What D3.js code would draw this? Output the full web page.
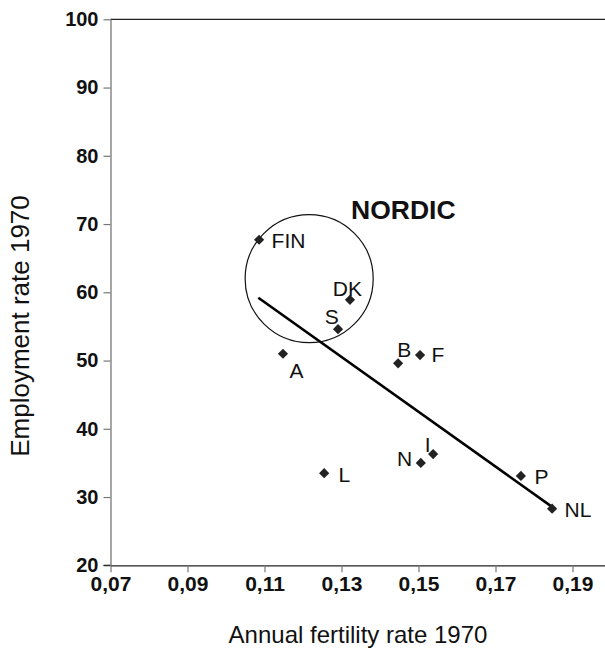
<!DOCTYPE html>
<html>
<head>
<meta charset="utf-8">
<script src="https://cdn.jsdelivr.net/npm/d3@7"></script>
<style>
  html, body { margin: 0; padding: 0; background: #fff; }
  svg { display: block; font-family: "Liberation Sans", Arial, Helvetica, sans-serif; }
</style>
</head>
<body>
<svg id="chart" width="605" height="650"></svg>
<script>
// ---- data ----
const countries  = ["FIN", "DK", "S", "A", "B", "F", "N", "I", "L", "P", "NL"];
const fertility  = [0.1086, 0.1322, 0.1291, 0.1148, 0.1447, 0.1504, 0.1506, 0.1538, 0.1255, 0.1766, 0.1847];
const employment = [67.7, 58.9, 54.6, 51.0, 49.6, 50.8, 35.0, 36.3, 33.5, 33.1, 28.3];
const xTicks = [0.07, 0.09, 0.11, 0.13, 0.15, 0.17, 0.19];
const yTicks = [20, 30, 40, 50, 60, 70, 80, 90, 100];
const trendX = [0.1084, 0.1846];
const trendY = [59.2, 28.6];
const nordicCenter = [0.1216, 62.0];
const nordicRadius = [0.01663, 9.38];   // in data units (x, y)
const groupLabel = "NORDIC";
const xTitle = "Annual fertility rate 1970";
const yTitle = "Employment rate 1970";

// ---- layout (label offsets in px) ----
const labelOffset = {
  FIN: [12.5, 8], DK: [-17.2, -3.7], S: [-13.3, -5.3], A: [6.5, 24], B: [-0.8, -6],
  F: [11.5, 7], N: [-23.9, 2.7], I: [-8.5, -2.3], L: [14.2, 8.7], P: [13.5, 8], NL: [12.5, 8]
};

const svg = d3.select("#chart");
const x = d3.scaleLinear().domain([0.07, 0.20]).range([110.5, 611]);
const y = d3.scaleLinear().domain([20, 100]).range([565.3, 19.3]);

const fmt = d => d.toFixed(2).replace(".", ",");

// top frame line
svg.append("line")
  .attr("x1", x(0.07)).attr("x2", 605)
  .attr("y1", y(100)).attr("y2", y(100))
  .attr("stroke", "#222").attr("stroke-width", 1.2);

// y axis
const gy = svg.append("g")
  .attr("transform", `translate(${x(0.07)},0)`)
  .call(d3.axisLeft(y).tickValues(yTicks).tickSize(7).tickSizeOuter(0).tickPadding(5));
gy.select(".domain").attr("stroke", "#777").attr("stroke-width", 1.3);
gy.selectAll(".tick line").attr("stroke", "#777").attr("stroke-width", 1.2);
gy.selectAll(".tick text")
  .attr("font-size", 20).attr("font-weight", "bold").attr("fill", "#111")
  .attr("font-family", "Liberation Sans, Arial, sans-serif");

// x axis
const gx = svg.append("g")
  .attr("transform", `translate(0,${y(20)})`)
  .call(d3.axisBottom(x).tickValues(xTicks).tickFormat(fmt).tickSize(7).tickSizeOuter(0).tickPadding(4));
gx.select(".domain").attr("stroke", "#222").attr("stroke-width", 1.2);
gx.selectAll(".tick line").attr("stroke", "#777").attr("stroke-width", 1.2);
gx.selectAll(".tick text")
  .attr("font-size", 21).attr("font-weight", "bold").attr("fill", "#111")
  .attr("font-family", "Liberation Sans, Arial, sans-serif");

// left extension of 20 line (x axis continues past y axis)
svg.append("line")
  .attr("x1", x(0.07) - 7).attr("x2", x(0.07))
  .attr("y1", y(20)).attr("y2", y(20))
  .attr("stroke", "#222").attr("stroke-width", 1.2);

// axis titles
svg.append("text")
  .attr("x", 358).attr("y", 643)
  .attr("text-anchor", "middle")
  .attr("font-size", 24).attr("fill", "#111")
  .text(xTitle);
svg.append("text")
  .attr("transform", `translate(29,${326}) rotate(-90)`)
  .attr("text-anchor", "middle")
  .attr("font-size", 26).attr("fill", "#111")
  .text(yTitle);

// nordic circle
svg.append("ellipse")
  .attr("cx", x(nordicCenter[0])).attr("cy", y(nordicCenter[1]))
  .attr("rx", x(nordicCenter[0] + nordicRadius[0]) - x(nordicCenter[0]))
  .attr("ry", y(nordicCenter[1]) - y(nordicCenter[1] + nordicRadius[1]))
  .attr("fill", "none").attr("stroke", "#111").attr("stroke-width", 1.2);

svg.append("text")
  .attr("x", 351).attr("y", 219)
  .attr("font-size", 26.5).attr("font-weight", "bold").attr("fill", "#111")
  .text(groupLabel);

// trend line
svg.append("line")
  .attr("x1", x(trendX[0])).attr("y1", y(trendY[0]))
  .attr("x2", x(trendX[1])).attr("y2", y(trendY[1]))
  .attr("stroke", "#000").attr("stroke-width", 2.6);

// points
const pts = countries.map((c, i) => ({ c, fx: fertility[i], ey: employment[i] }));
const sym = d3.symbol().type(d3.symbolSquare).size(52);
svg.append("g").selectAll("path").data(pts).join("path")
  .attr("d", sym)
  .attr("transform", d => `translate(${x(d.fx)},${y(d.ey)}) rotate(45)`)
  .attr("fill", "#222");

svg.append("g").selectAll("text").data(pts).join("text")
  .attr("x", d => x(d.fx) + labelOffset[d.c][0])
  .attr("y", d => y(d.ey) + labelOffset[d.c][1])
  .attr("font-size", 21).attr("fill", "#111")
  .text(d => d.c);
</script>
</body>
</html>
